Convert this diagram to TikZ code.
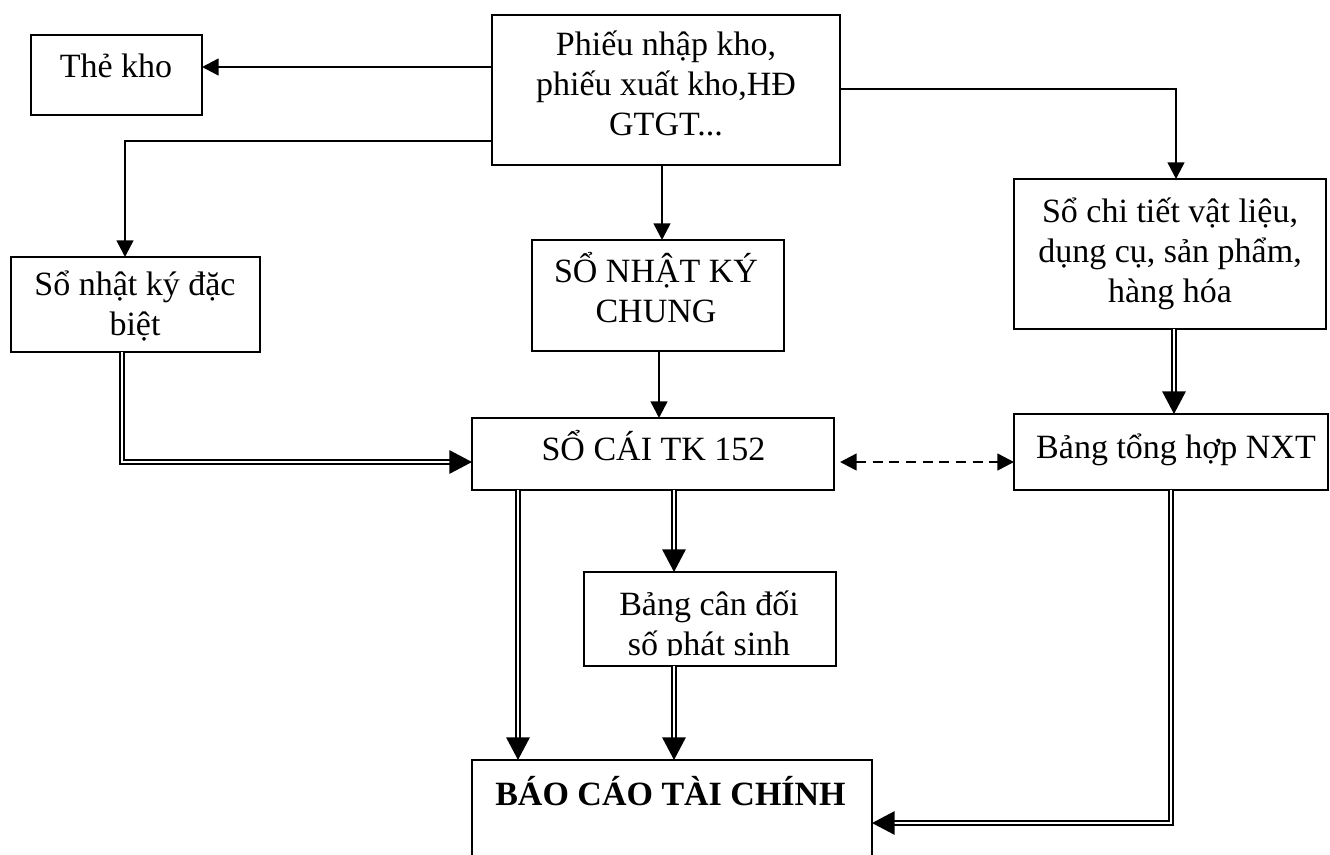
\documentclass[tikz,border=0pt]{standalone}
\usepackage{fontspec}
\setmainfont{Liberation Serif}
\usetikzlibrary{arrows.meta}
\begin{document}
\begin{tikzpicture}[x=0.75pt,y=-0.75pt,
  box/.style={draw,line width=1.6pt,inner sep=0pt,outer sep=0pt},
  txt/.style={align=center,inner sep=0pt,font=\fontsize{25.5}{30}\selectfont},
  arr/.style={line width=1.9pt,-{Triangle[length=12.5pt,width=12.5pt]}},
  dbl/.style={double,double distance=1.8pt,line width=1.5pt,-{Triangle[length=17pt,width=17.5pt]}},
  dasharr/.style={line width=1.9pt,dash pattern=on 7.5pt off 5pt,{Triangle[length=12.5pt,width=12.5pt]}-{Triangle[length=12.5pt,width=12.5pt]}}]
\clip (0,0) rectangle (1330,854);
\fill[white] (0,0) rectangle (1330,854);

% boxes
\node[box,minimum width=128.25pt,minimum height=60pt] (thekho) at (116.5,75) {};
\node[box,minimum width=261pt,minimum height=112.5pt] (phieu) at (666,90) {};
\node[box,minimum width=186.75pt,minimum height=71.25pt] (nkdb) at (135.5,304.5) {};
\node[box,minimum width=189pt,minimum height=83.25pt] (nkc) at (658,295.5) {};
\node[box,minimum width=234pt,minimum height=112.5pt] (chitiet) at (1170,254) {};
\node[box,minimum width=235.5pt,minimum height=57pt] (tonghop) at (1171,452) {};
\node[box,minimum width=271.5pt,minimum height=54pt] (socai) at (653,454) {};
\node[box,minimum width=189pt,minimum height=70.5pt] (cdps) at (710,619) {};
\node[box,minimum width=300pt,minimum height=105pt] (bctc) at (672,830) {};

% texts
\node[txt,anchor=base] (tthekho) at (116,77) {Thẻ kho};
\node[txt] (tphieu) at (666,83) {Phiếu nhập kho,\\phiếu xuất kho,HĐ\\GTGT...};
\node[txt] (tnkdb) at (135,306) {Sổ nhật ký đặc\\biệt};
\node[txt] (tnkc) at (656,288) {SỔ NHẬT KÝ\\CHUNG};
\node[txt] (tchitiet) at (1170,254) {Sổ chi tiết vật liệu,\\dụng cụ, sản phẩm,\\hàng hóa};
\node[txt,anchor=base] (ttonghop) at (1176,458) {Bảng tổng hợp NXT};
\node[txt,anchor=base] (tsocai) at (653.5,460) {SỔ CÁI TK 152};
\begin{scope}
  \clip (584,572) rectangle (836,655);
  \node[txt] (tcdps) at (709,627) {Bảng cân đối\\số phát sinh};
\end{scope}
\node[txt,anchor=base,font=\fontsize{25.5}{30}\selectfont\bfseries] (tbctc) at (670.5,805) {BÁO CÁO TÀI CHÍNH};

% connectors
\draw[arr] (phieu.west |- 0,67) -- (thekho.east |- 0,67);
\draw[arr] (phieu.west |- 0,141) -| (nkdb.north -| 125,0);
\draw[arr] (phieu.south -| 662,0) -- (nkc.north -| 662,0);
\draw[arr] (phieu.east |- 0,89) -| (chitiet.north -| 1176,0);
\draw[arr] (nkc.south -| 659,0) -- (socai.north -| 659,0);
\draw[dbl] (nkdb.south -| 122,0) |- (socai.west |- 0,462);
\draw[dbl] (chitiet.south -| 1174,0) -- (tonghop.north -| 1174,0);
\draw[dasharr,shorten <=4.5pt] (socai.east |- 0,462) -- (tonghop.west |- 0,462);
\draw[dbl] (socai.south -| 518,0) -- (bctc.north -| 518,0);
\draw[dbl] (socai.south -| 674,0) -- (cdps.north -| 674,0);
\draw[dbl] (cdps.south -| 674,0) -- (bctc.north -| 674,0);
\draw[dbl] (tonghop.south -| 1171,0) |- (bctc.east |- 0,823);
\end{tikzpicture}
\end{document}
